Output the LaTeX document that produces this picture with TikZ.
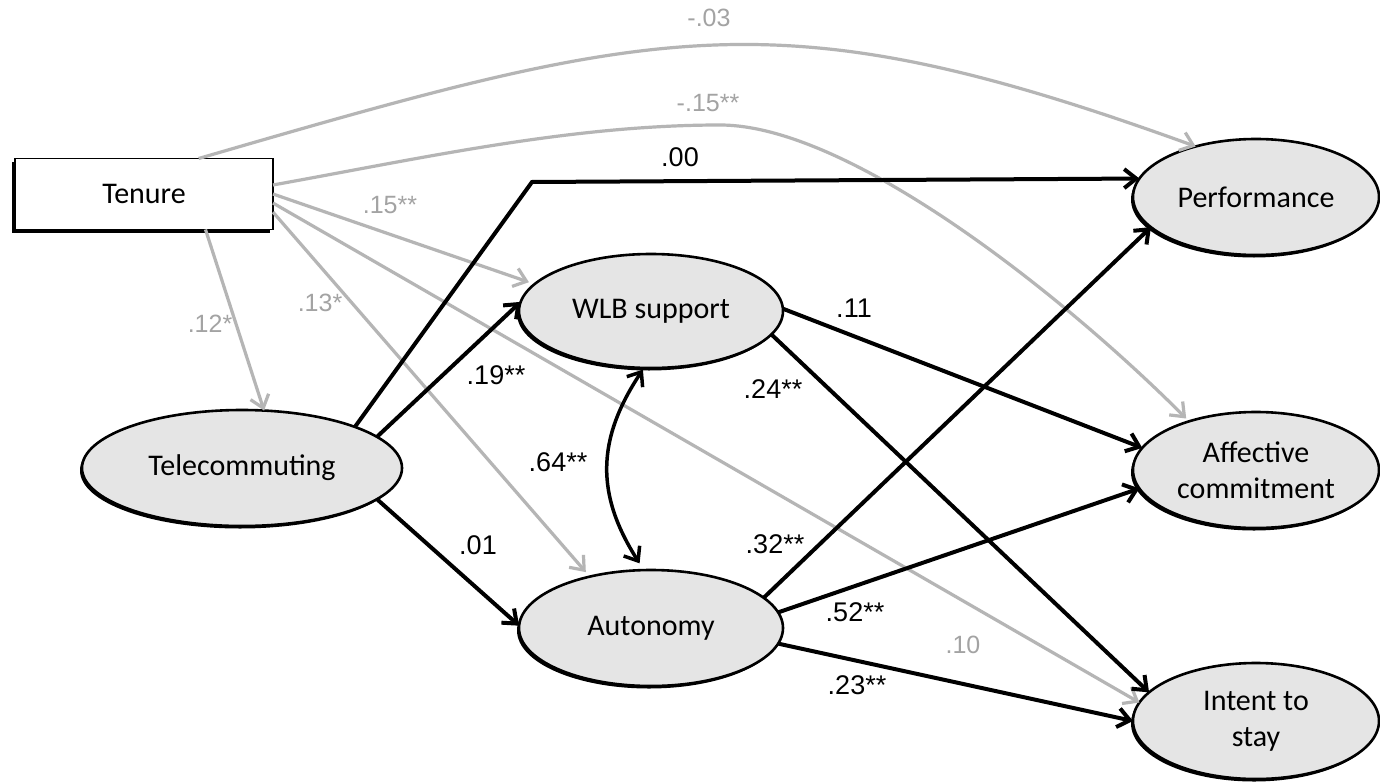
\documentclass[tikz,border=0pt]{standalone}
\usepackage{fontspec}
\setmainfont{Carlito}
\newfontfamily\arialfont{Liberation Sans}
\usetikzlibrary{arrows.meta,shapes.geometric,shadows}
\definecolor{lgray}{HTML}{B5B5B5}
\definecolor{labgray}{HTML}{A3A3A3}
\definecolor{efill}{HTML}{E5E5E5}
\begin{document}
\begin{tikzpicture}[x=1pt,y=-1pt,
  lat/.style={ellipse, draw=black, line width=2.6pt, fill=efill, inner sep=0pt, outer sep=0pt,
    general shadow={fill=black, shadow xshift=-2pt, shadow yshift=-2.5pt},
    font=\fontsize{30}{36}\selectfont, align=center},
  obs/.style={rectangle, draw=black, line width=1.5pt, fill=white, inner sep=0pt, outer sep=0pt,
    general shadow={fill=black, shadow xshift=-3pt, shadow yshift=-3pt},
    font=\fontsize{30}{36}\selectfont},
  tipb/.tip={Straight Barb[length=12pt,width=19pt]},
  barrow/.style={draw=black, line width=4pt, -tipb, line join=miter},
  garrow/.style={draw=lgray, line width=3.2pt, -tipb},
  blab/.style={font=\arialfont\fontsize{27}{31}\selectfont, text=black, inner sep=0pt},
  glab/.style={font=\arialfont\fontsize{25}{29}\selectfont, text=labgray, inner sep=0pt}
]
\path[use as bounding box, fill=white] (0,0) rectangle (1380,781);

% nodes
\node[obs, minimum width=258pt, minimum height=71pt] (tenure) at (144,194) {Tenure};
\node[lat, minimum width=320pt, minimum height=116pt] (tele) at (242,468) {Telecommuting};
\node[lat, minimum width=264pt, minimum height=114pt] (wlb) at (651,311) {WLB support};
\node[lat, minimum width=264pt, minimum height=116pt] (auto) at (651,628) {Autonomy};
\node[lat, minimum width=246pt, minimum height=116pt] (perf) at (1256,197) {Performance};
\node[lat, minimum width=246pt, minimum height=116pt] (aff) at (1256,470) {Affective\\commitment};
\node[lat, minimum width=246pt, minimum height=116pt] (intent) at (1256,721) {Intent to\\stay};

% gray paths from Tenure
\draw[garrow] (tenure.33) .. controls (661,24) and (778,-5) .. (perf.140);
\draw[garrow, shorten >=4pt] (tenure.4) .. controls (423,158) and (570,125) .. (720,125)
  .. controls (850,125) and (1065,297) .. (aff.144);
\draw[garrow, shorten >=6pt] (tenure.0) -- (wlb.167);
\draw[garrow, shorten >=6pt] (tenure.-8) -- (auto.140);
\draw[garrow] (tenure.-4) -- (intent.171);
\draw[garrow] (tenure.-30) -- (tele.69);

% black paths
\coordinate (corner) at (532,182);
\draw[barrow] (tele.20) -- (corner) -- (perf.171);
\draw[barrow] (tele.13) -- (wlb.176);
\draw[barrow] (tele.-13) -- (auto.179);
\draw[draw=black, line width=3.5pt, tipb-tipb, shorten >=8pt, shorten <=2pt]
  (wlb.263) .. controls (596,440) and (596,495) .. (auto.97);
\draw[barrow] (wlb.1) -- (aff.169);
\draw[barrow] (wlb.-11) -- (intent.165);
\draw[barrow] (auto.15) -- (perf.196);
\draw[barrow] (auto.7) -- (aff.189);
\draw[barrow] (auto.-7) -- (intent.180);

% labels
\node[glab] (lm03) at (709,18) {-.03};
\node[glab] (lm15) at (708,103) {-.15**};
\node[blab] (l00) at (680,157) {.00};
\node[glab] (l15) at (390,205) {.15**};
\node[glab] (l13) at (320,303) {.13*};
\node[glab] (l12) at (210,324) {.12*};
\node[blab] (l19) at (496,375) {.19**};
\node[blab] (l64) at (558,462) {.64**};
\node[blab] (l01) at (478,545) {.01};
\node[blab] (l11) at (854,308) {.11};
\node[blab] (l24) at (773,389) {.24**};
\node[blab] (l32) at (775,544) {.32**};
\node[blab] (l52) at (855,612) {.52**};
\node[glab] (l10) at (963,645) {.10};
\node[blab] (l23) at (857,685) {.23**};
\end{tikzpicture}
\end{document}
